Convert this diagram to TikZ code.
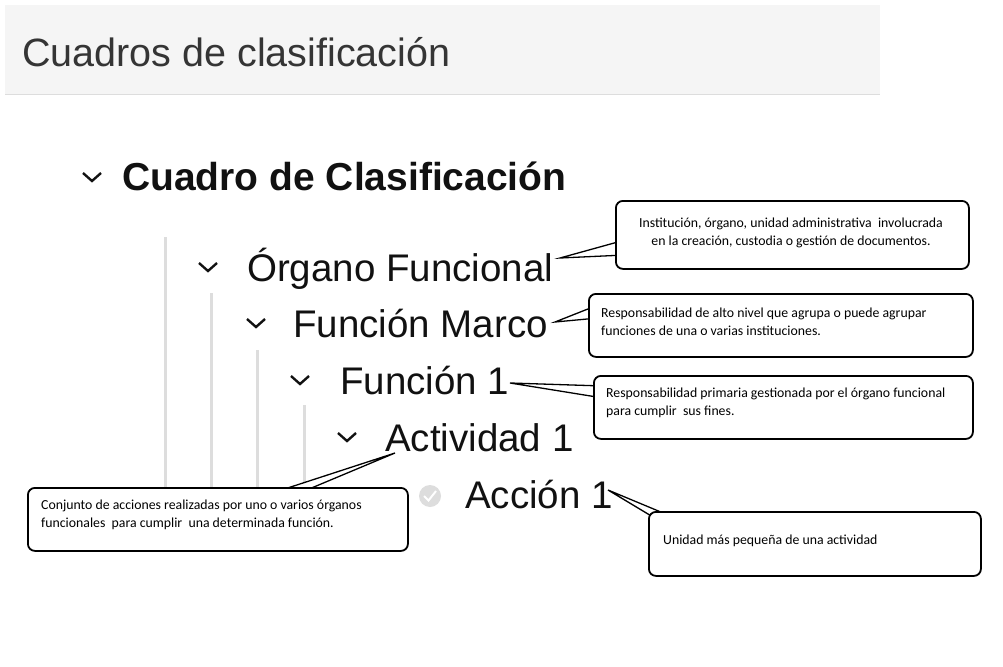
\documentclass[tikz,border=0pt]{standalone}
\usepackage{fontspec}
\setmainfont{Liberation Sans}
\newfontfamily\calfont{Carlito}
\definecolor{txt}{HTML}{111111}
\definecolor{hdr}{HTML}{F5F5F5}
\definecolor{guide}{HTML}{DDDDDD}
\begin{document}
\begin{tikzpicture}[x=1pt,y=-1pt,
  item/.style={anchor=base west,inner sep=0pt,text=txt,font=\fontsize{38.5}{42}\selectfont},
  chev/.style={draw=txt,line width=2.4pt},
  call/.style={draw=black,line width=1.8pt,fill=white,rounded corners=7pt,anchor=north west,inner sep=0pt},
  ctext/.style={font=\calfont\fontsize{13.8}{18}\selectfont,align=left,anchor=north west,inner sep=0pt},
  wedge/.style={draw=black,line width=1.3pt,fill=white,line join=miter}]
\useasboundingbox (0,0) rectangle (1003,666);
\fill[white] (0,0) rectangle (1003,666);
% header
\fill[hdr] (5,5) rectangle (880,95);
\draw[guide,line width=1pt] (5,95) -- (880,95);
\node[anchor=base west,inner sep=0pt,text=txt!85,font=\fontsize{39.5}{44}\selectfont] (hd) at (22,67) {Cuadros de clasificación};
% guides
\foreach \x/\y in {165/237,211/293,257/350,304/405}{\draw[guide,line width=3pt] (\x,\y) -- (\x,500);}
% tree
\node[item,font=\bfseries\fontsize{39}{42}\selectfont] (t0) at (122,190) {Cuadro de Clasificación};
\node[item] (t1) at (247,281) {Órgano Funcional};
\node[item] (t2) at (293,337) {Función Marco};
\node[item] (t3) at (340,394) {Función 1};
\node[item] (t4) at (385,451) {Actividad 1};
\node[item] (t5) at (465,508) {Acción 1};
\foreach \x/\y in {92/177,208/267,256/323,300/380,347/437}{\draw[chev] (\x-9,\y-4) -- (\x,\y+4) -- (\x+9,\y-4);}
\fill[guide] (430,496) circle (11pt);
\draw[white,line width=2pt] (424,496) -- (428.5,500.5) -- (436,491);
% callouts
\coordinate (p1) at (560,258);
\coordinate (p2) at (555,322);
\coordinate (p3) at (510,383);
\coordinate (p4) at (395,453);
\coordinate (p5) at (608,490);
\draw[wedge] (625,240) -- (p1) -- (625,255);
\draw[wedge] (598,305) -- (p2) -- (598,318);
\draw[wedge] (603,386) -- (p3) -- (603,398);
\draw[wedge] (260,497) -- (p4) -- (290,497);
\draw[wedge] (658,520) -- (p5) -- (680,520);
\node[call,minimum width=353pt,minimum height=68pt] (c1) at (615,200) {};
\node[call,minimum width=384pt,minimum height=63pt] (c2) at (588,293) {};
\node[call,minimum width=379pt,minimum height=63pt] (c3) at (593,375) {};
\node[call,minimum width=380pt,minimum height=63pt] (c4) at (27,487) {};
\node[call,minimum width=332pt,minimum height=64pt] (c5) at (648,511) {};
\node[ctext,align=center,anchor=north] (x1) at (791,218) {Institución, órgano, unidad administrativa~ involucrada\\en la creación, custodia o gestión de documentos.};
\node[ctext] (x2) at (601,308) {Responsabilidad de alto nivel que agrupa o puede agrupar\\funciones de una o varias instituciones.};
\node[ctext] (x3) at (606,388) {Responsabilidad primaria gestionada por el órgano funcional\\para cumplir~ sus fines.};
\node[ctext] (x4) at (41,500) {Conjunto de acciones realizadas por uno o varios órganos\\funcionales~ para cumplir~ una determinada función.};
\node[ctext] (x5) at (663,535) {Unidad más pequeña de una actividad};
\end{tikzpicture}
\end{document}
